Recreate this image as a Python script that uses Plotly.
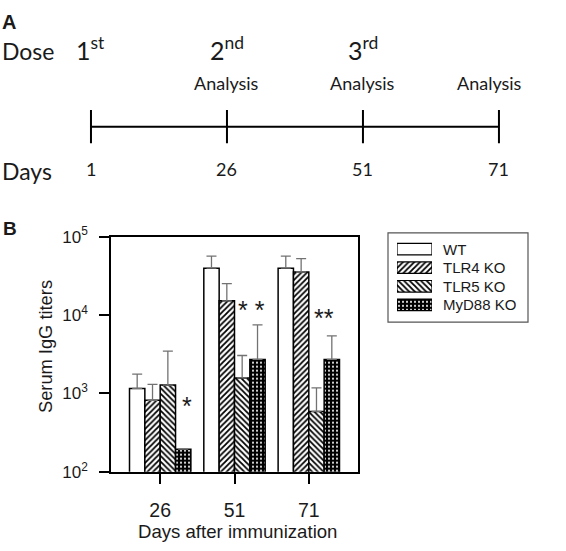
import plotly.graph_objects as go

# ---------------- Panel A data ----------------
timeline_days = ["1", "26", "51", "71"]
dose_labels = ["1<sup>st</sup>", "2<sup>nd</sup>", "3<sup>rd</sup>", ""]
analysis_labels = ["", "Analysis", "Analysis", "Analysis"]

# ---------------- Panel B data ----------------
days_cat = ["26", "51", "71"]
groups = ["WT", "TLR4 KO", "TLR5 KO", "MyD88 KO"]
wt_mean = [1160, 39600, 39600]
wt_upper = [1770, 56500, 56500]
tlr4_mean = [820, 15200, 35400]
tlr4_upper = [1310, 25200, 52500]
tlr5_mean = [1280, 1580, 590]
tlr5_upper = [3470, 3050, 1180]
myd88_mean = [195, 2720, 2720]
myd88_upper = [195, 7480, 5430]
sig_labels = ["*", "* *", "**"]
y_tickvals = [1e2, 1e3, 1e4, 1e5]
y_ticktext = ["10<sup>2</sup>", "10<sup>3</sup>", "10<sup>4</sup>", "10<sup>5</sup>"]
x_title = "Days after immunization"
y_title = "Serum IgG titers"

W, H = 566, 551
def px(x):
    return x / W
def py(y):
    return 1 - y / H

FONT_B = "Liberation Sans, Arial, sans-serif"
FONT_A = "Lato, Open Sans, sans-serif"
TXT = "#1a1a1a"

patterns = {
    "WT": dict(shape="", fgcolor="black", bgcolor="white", size=4, solidity=0.4),
    "TLR4 KO": dict(shape="/", fgcolor="black", bgcolor="white", size=4, solidity=0.45),
    "TLR5 KO": dict(shape="\\", fgcolor="black", bgcolor="white", size=4, solidity=0.45),
    "MyD88 KO": dict(shape=".", fgcolor="white", bgcolor="black", size=4, solidity=0.22),
}

series = [
    ("WT", wt_mean, wt_upper),
    ("TLR4 KO", tlr4_mean, tlr4_upper),
    ("TLR5 KO", tlr5_mean, tlr5_upper),
    ("MyD88 KO", myd88_mean, myd88_upper),
]

fig = go.Figure()

for name, mean, upper in series:
    p = patterns[name]
    fig.add_trace(go.Bar(
        x=days_cat, y=mean, name=name, showlegend=False,
        marker=dict(color="white", line=dict(color="black", width=1.5),
                    pattern=dict(shape=p["shape"], fgcolor=p["fgcolor"], bgcolor=p["bgcolor"],
                                 size=p["size"], solidity=p["solidity"], fillmode="replace")),
        error_y=dict(type="data", symmetric=False,
                     array=[u - m for u, m in zip(upper, mean)],
                     arrayminus=[0] * len(mean),
                     color="#727272", thickness=1.3, width=5),
        xaxis="x", yaxis="y",
    ))

# Legend swatches (custom legend)
fig.add_trace(go.Bar(
    x=[1] * len(groups), y=groups, orientation="h", width=0.62, showlegend=False,
    marker=dict(color="white", line=dict(color="black", width=1.2),
                pattern=dict(shape=[patterns[g]["shape"] for g in groups],
                             fgcolor=[patterns[g]["fgcolor"] for g in groups],
                             bgcolor=[patterns[g]["bgcolor"] for g in groups],
                             size=[patterns[g]["size"] for g in groups],
                             solidity=[patterns[g]["solidity"] for g in groups],
                             fillmode="replace")),
    xaxis="x3", yaxis="y3", hoverinfo="skip",
))

# Panel A timeline
idx = list(range(len(timeline_days)))
fig.add_trace(go.Scatter(x=idx, y=[0] * len(idx), mode="lines",
                         line=dict(color="black", width=2), showlegend=False,
                         xaxis="x2", yaxis="y2", hoverinfo="skip"))
tx, ty = [], []
for i in idx:
    tx += [i, i, None]
    ty += [-1, 1, None]
fig.add_trace(go.Scatter(x=tx, y=ty, mode="lines",
                         line=dict(color="black", width=2), showlegend=False,
                         xaxis="x2", yaxis="y2", hoverinfo="skip"))

annotations = []
# Panel labels
annotations.append(dict(text="<b>A</b>", x=px(0), y=py(10), xref="paper", yref="paper",
                        xanchor="left", yanchor="middle", showarrow=False,
                        font=dict(family=FONT_B, size=20, color=TXT)))
annotations.append(dict(text="<b>B</b>", x=px(1), y=py(226), xref="paper", yref="paper",
                        xanchor="left", yanchor="middle", showarrow=False,
                        font=dict(family=FONT_B, size=19, color=TXT)))
annotations.append(dict(text="Dose", x=px(0), y=py(41), xref="paper", yref="paper",
                        xanchor="left", yanchor="middle", showarrow=False,
                        font=dict(family=FONT_A, size=23, color=TXT)))
annotations.append(dict(text="Days", x=px(0), y=py(166), xref="paper", yref="paper",
                        xanchor="left", yanchor="middle", showarrow=False,
                        font=dict(family=FONT_A, size=23, color=TXT)))
for i, (d, dl, al) in enumerate(zip(timeline_days, dose_labels, analysis_labels)):
    annotations.append(dict(text=d, x=i, y=py(164), xref="x2", yref="paper",
                            xanchor="center", yanchor="middle", showarrow=False,
                            font=dict(family=FONT_A, size=18, color=TXT)))
    if dl:
        annotations.append(dict(text=dl, x=i, y=py(38), xref="x2", yref="paper",
                                xanchor="center", yanchor="middle", showarrow=False,
                                font=dict(family=FONT_A, size=25, color=TXT)))
    if al:
        annotations.append(dict(text=al, x=i, y=py(74), xref="x2", yref="paper",
                                xanchor="center", yanchor="middle", showarrow=False,
                                xshift=(-9 if i == len(idx) - 1 else 0),
                                font=dict(family=FONT_A, size=18, color=TXT)))

# Axis titles
annotations.append(dict(text=x_title, x=px(237), y=py(541), xref="paper", yref="paper",
                        xanchor="center", yanchor="middle", showarrow=False,
                        font=dict(family=FONT_B, size=18.6, color=TXT)))
annotations.append(dict(text=y_title, x=px(45), y=py(349), xref="paper", yref="paper",
                        xanchor="center", yanchor="middle", showarrow=False, textangle=-90,
                        font=dict(family=FONT_B, size=18.3, color=TXT)))

# Significance stars
star_shift = [27, 17, 15]
star_y = [2.93, 4.16, 4.05]
for i, (s, xs, yv) in enumerate(zip(sig_labels, star_shift, star_y)):
    annotations.append(dict(text=s, x=i, y=yv, xref="x", yref="y", xshift=xs, yshift=-7,
                            xanchor="center", yanchor="middle", showarrow=False,
                            font=dict(family=FONT_B, size=25, color=TXT)))

# Legend labels
for g in groups:
    annotations.append(dict(text=g, x=1, y=g, xref="x3", yref="y3", xanchor="left",
                            yanchor="middle", xshift=9, showarrow=False,
                            font=dict(family=FONT_B, size=15, color=TXT)))

shapes = [dict(type="rect", xref="paper", yref="paper",
               x0=px(388), x1=px(528), y0=py(323), y1=py(230),
               line=dict(color="#555", width=1.2), fillcolor="rgba(0,0,0,0)")]

fig.update_layout(
    width=W, height=H,
    margin=dict(l=0, r=0, t=0, b=0),
    paper_bgcolor="white", plot_bgcolor="white",
    barmode="group", bargap=0.174, bargroupgap=0,
    showlegend=False,
    font=dict(family=FONT_B, color=TXT),
    annotations=annotations, shapes=shapes,
    xaxis=dict(domain=[px(111), px(358)], anchor="y", type="category",
               range=[-0.662, 2.662], showline=True, linecolor="black", linewidth=1.5,
               mirror=True, ticks="outside", ticklen=10, tickwidth=1.5, tickcolor="black",
               tickfont=dict(size=19.5, color=TXT), ticklabelstandoff=10, showgrid=False,
               zeroline=False),
    yaxis=dict(domain=[py(479), py(234)], anchor="x", type="log", range=[2, 5],
               showline=True, linecolor="black", linewidth=1.5, mirror=True,
               ticks="outside", ticklen=10, tickwidth=1.5, tickcolor="black",
               tickvals=y_tickvals, ticktext=y_ticktext, tickfont=dict(size=17, color=TXT),
               ticklabelstandoff=8, showgrid=False, zeroline=False),
    xaxis2=dict(domain=[0, 1], anchor="y2", range=[-0.669, 3.493], visible=False),
    yaxis2=dict(domain=[py(137), py(102)], anchor="x2", range=[-1, 1], visible=False),
    xaxis3=dict(domain=[px(397), px(432)], anchor="y3", range=[0, 1], visible=False),
    yaxis3=dict(domain=[py(314.7), py(237.3)], anchor="x3", type="category",
                range=[3.5, -0.5], visible=False),
)

fig.write_html("out.html", config={"displayModeBar": False},
               post_script="document.body.style.margin='0';document.body.style.padding='0';")
